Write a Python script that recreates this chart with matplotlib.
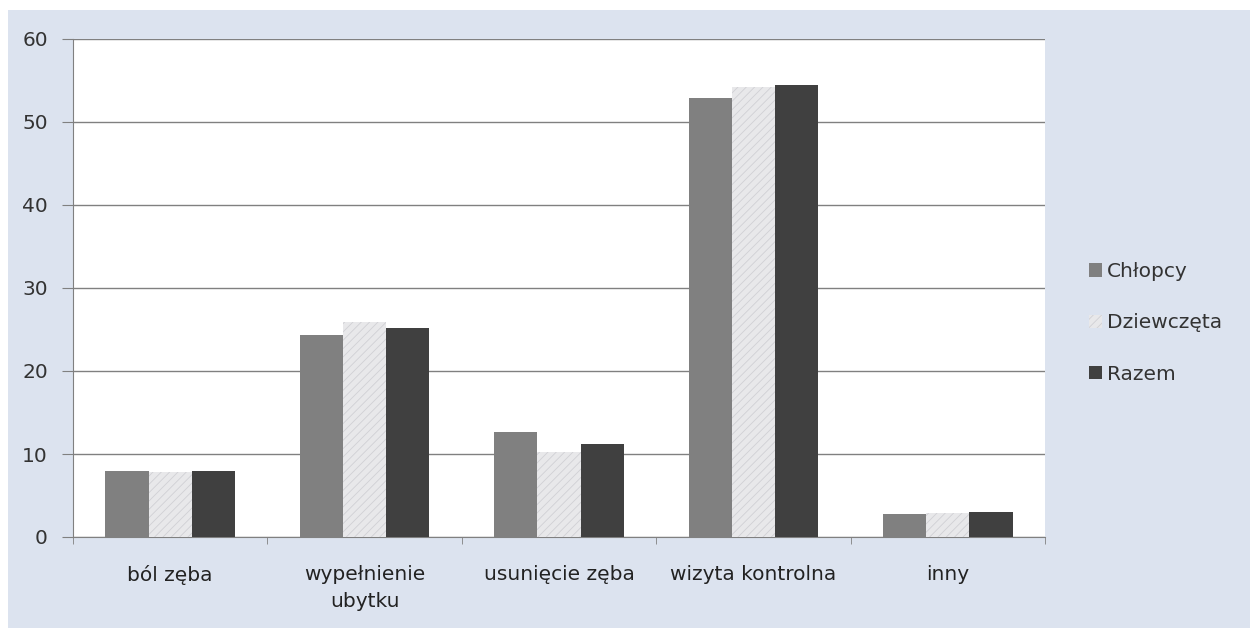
import matplotlib
matplotlib.use("Agg")
import matplotlib.pyplot as plt
from matplotlib.patches import Rectangle
import numpy as np

categories = ["ból zęba", "wypełnienie\nubytku", "usunięcie zęba", "wizyta kontrolna", "inny"]
chlopcy = [8.0, 24.3, 12.7, 52.9, 2.8]
dziewczeta = [7.8, 25.9, 10.2, 54.2, 2.9]
razem = [8.0, 25.2, 11.2, 54.5, 3.05]
series_names = ["Chłopcy", "Dziewczęta", "Razem"]
yticks = [0, 10, 20, 30, 40, 50, 60]

fig = plt.figure(figsize=(12.5, 6.28), dpi=100)
fig.patch.set_facecolor("white")
bg = Rectangle((8 / 1250, 0), 1 - 8 / 1250, 1 - 10 / 628, transform=fig.transFigure,
               facecolor="#dce3ef", edgecolor="none", zorder=-10)
fig.patches.append(bg)

ax = fig.add_axes([73 / 1250, 1 - 537 / 628, (1045 - 73) / 1250, (537 - 39) / 628])
ax.set_facecolor("white")

x = np.arange(len(categories))
w = 0.222
plt.rcParams["hatch.linewidth"] = 0.6
ax.bar(x - w, chlopcy, w, color="#808080", label=series_names[0], zorder=3)
ax.bar(x, dziewczeta, w, color="#e8e8ea", edgecolor="#d0d0d4", linewidth=0,
       hatch="////", label=series_names[1], zorder=3)
ax.bar(x + w, razem, w, color="#404040", label=series_names[2], zorder=3)

ax.set_xlim(-0.5, len(categories) - 0.5)
ax.set_ylim(0, 60)
ax.set_yticks(yticks)
ax.set_yticklabels([str(t) for t in yticks], fontsize=14.5, color="#333333")
ax.yaxis.grid(True, color="#808080", linewidth=1, zorder=0)
ax.set_axisbelow(True)

ax.set_xticks(x)
ax.set_xticklabels(categories, fontsize=14.5, color="#222222", linespacing=1.55)
ax.tick_params(axis="x", length=0, pad=20)
ax.tick_params(axis="y", length=8, color="#808080", pad=10)
ax.set_xticks(np.arange(len(categories) + 1) - 0.5, minor=True)
ax.tick_params(axis="x", which="minor", length=5, color="#808080", direction="out")

for s in ["top", "right"]:
    ax.spines[s].set_visible(False)
ax.spines["left"].set_color("#808080")
ax.spines["bottom"].set_color("#808080")

leg = ax.legend(loc="center left", bbox_to_anchor=(1.037, 0.43), frameon=False,
                fontsize=14.5, handlelength=0.65, handleheight=0.65, handletextpad=0.25,
                labelspacing=1.6, borderaxespad=0)
for t in leg.get_texts():
    t.set_color("#333333")

fig.savefig("out.png", dpi=100)
